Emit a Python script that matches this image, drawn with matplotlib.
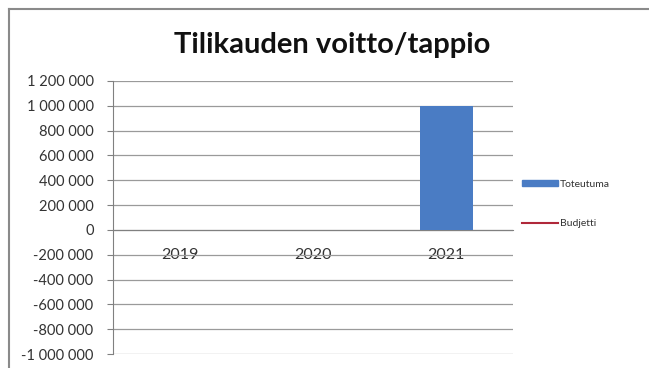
import numpy as np
import matplotlib
matplotlib.use("Agg")
import matplotlib.pyplot as plt
from matplotlib.lines import Line2D

categories = ["2019", "2020", "2021"]
toteutuma = [0, 0, 1000000]
budjetti = [np.nan, np.nan, np.nan]
yticks = list(range(-1000000, 1200001, 200000))

def fmt(v):
    s = f"{abs(v):,}".replace(",", " ")
    return ("-" if v < 0 else "") + s

plt.rcParams['font.family'] = ['Lato', 'DejaVu Sans']

fig = plt.figure(figsize=(6.49, 3.68), dpi=100)
fig.patch.set_facecolor('white')

# outer chart border (top and left visible)
fig.add_artist(Line2D([9/649, 1.0], [1-9/368, 1-9/368], transform=fig.transFigure,
                      color='#8a8a8a', lw=1.5))
fig.add_artist(Line2D([9/649, 9/649], [0, 1-9/368], transform=fig.transFigure,
                      color='#8a8a8a', lw=1.5))

ax = fig.add_axes([113/649, 1-354/368, 400/649, (354-81)/368])
x = np.arange(len(categories))
ax.bar(x, toteutuma, width=0.4, color='#4A7CC4', label='Toteutuma', zorder=3)
ax.plot(x, budjetti, color='#B0283A', lw=1.5, label='Budjetti', zorder=4)

ax.set_xlim(-0.5, len(categories) - 0.5)
ax.set_ylim(-1000000, 1200000)
ax.set_yticks(yticks)
ax.set_yticklabels([fmt(v) for v in yticks])
ax.yaxis.grid(True, color='#9a9a9a', lw=0.9, zorder=0)
ax.tick_params(axis='y', length=4, color='#808080', labelsize=10.5, labelcolor='#333333', pad=10)

for s in ['top', 'right']:
    ax.spines[s].set_visible(False)
ax.spines['left'].set_color('#808080')
ax.spines['bottom'].set_position(('data', 0))
ax.spines['bottom'].set_color('#808080')
ax.set_xticks(x)
ax.set_xticklabels(categories)
ax.tick_params(axis='x', length=0, labelsize=11.5, labelcolor='#333333', pad=13)

fig.text(332/649, 1-45/368, "Tilikauden voitto/tappio", ha='center', va='center',
         fontsize=21, fontweight='bold', color='#111111')

leg = fig.legend(handles=[
    plt.Rectangle((0, 0), 1, 1, color='#4A7CC4'),
    Line2D([0], [0], color='#B0283A', lw=1.5)],
    labels=['Toteutuma', 'Budjetti'],
    loc='center left', bbox_to_anchor=(513/649, 1-204/368), frameon=False,
    fontsize=7.5, labelspacing=2.9, handlelength=3.4, handleheight=0.5,
    handletextpad=0.2, labelcolor='#333333')

fig.savefig("out.png", dpi=100, facecolor='white')
